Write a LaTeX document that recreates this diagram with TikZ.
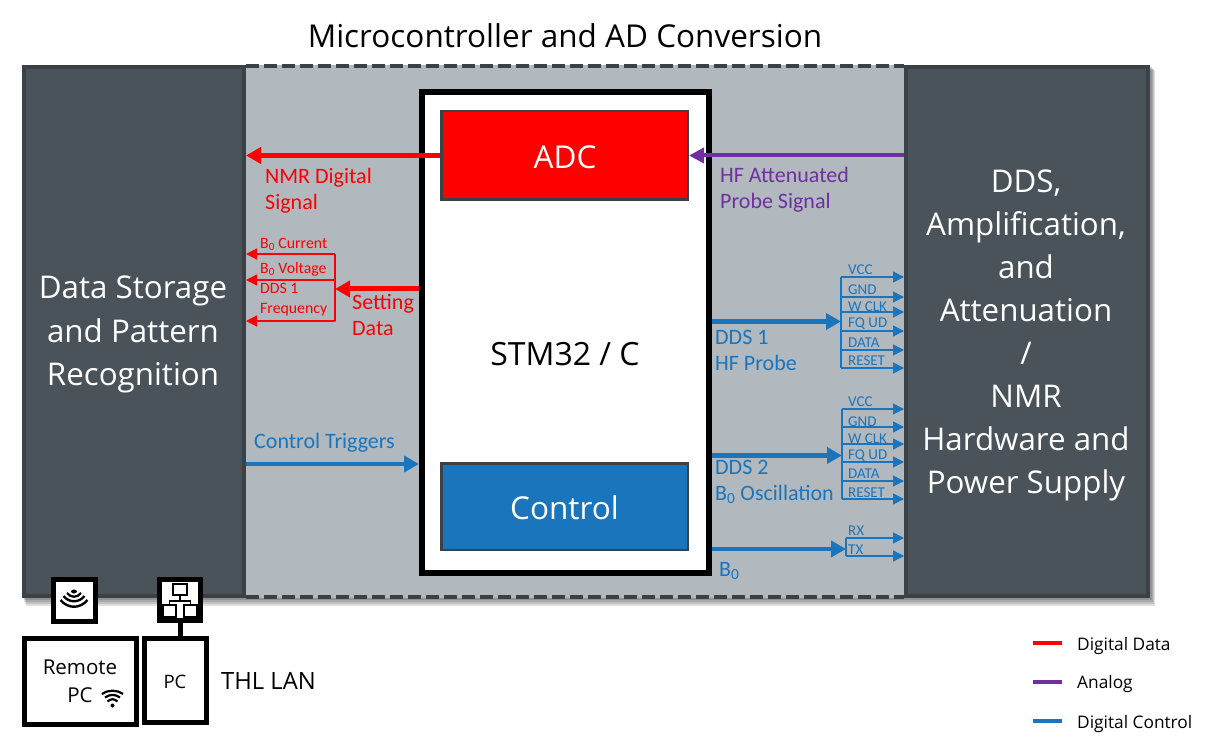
\documentclass[tikz,border=0pt]{standalone}
\usepackage{fontspec}
\setmainfont{Open Sans}
\newfontfamily\labelfont{Carlito}
\usetikzlibrary{arrows.meta, positioning}
\definecolor{paneldark}{HTML}{4A5359}
\definecolor{paneledge}{HTML}{3A4247}
\definecolor{midgray}{HTML}{B1B8BE}
\definecolor{datared}{HTML}{FF0000}
\definecolor{analogpurple}{HTML}{7030A0}
\definecolor{ctrlblue}{HTML}{1B75BC}
\newcommand{\fsize}[1]{\fontsize{#1}{#1}\selectfont}

\begin{document}
\begin{tikzpicture}[
    x=1pt, y=-1pt,
    softshadow/.style={black, opacity=0.13},
    panel/.style={draw=paneledge, line width=4pt, fill=paneldark, inner sep=0pt},
    paneltext/.style={text=white, align=center, inner sep=0pt, font=\fontsize{31.3}{43.1}\selectfont},
    block/.style={draw=paneledge, line width=2.5pt, minimum width=246.5pt},
    blocktext/.style={text=white, inner sep=0pt, font=\fontsize{31.5}{35}\selectfont},
    whitebox/.style={draw=black, fill=white, line width=5pt, inner sep=0pt, align=center},
    iconline/.style={black, line width=1.7pt},
    dataflow/.style={-{Triangle[length=15pt, width=16pt]}, datared, line width=5pt},
    analogflow/.style={-{Triangle[length=15pt, width=15pt]}, analogpurple, line width=4pt},
    ctrlflow/.style={-{Triangle[length=15pt, width=16pt]}, ctrlblue, line width=4.5pt},
    databranch/.style={-{Triangle[length=11pt, width=11pt]}, datared, line width=1.2pt},
    ctrlbranch/.style={-{Triangle[length=11pt, width=11pt]}, ctrlblue, line width=1.2pt},
    siglabel/.style={align=left, anchor=west, inner sep=0pt, font=\labelfont\fontsize{22}{26}\selectfont},
    pinlabel/.style={inner sep=0pt, text=ctrlblue, font=\labelfont\fontsize{15}{15}\selectfont},
    redlabel/.style={align=left, anchor=west, inner sep=0pt, text=datared, font=\labelfont\fontsize{15.8}{20}\selectfont},
    legendline/.style={line width=4pt},
    legendtext/.style={anchor=west, inner sep=0pt, font=\fontsize{17.3}{18}\selectfont}
  ]
    \useasboundingbox (0,0) rectangle (1213,743);

    % background panels
    \fill[softshadow] (24,67) rectangle (1152,600);
    \fill[softshadow] (24,68) rectangle (1153,602);
    \fill[softshadow] (25,69) rectangle (1154,604);
    \fill[softshadow] (26,70) rectangle (1155,606);
    \fill[white] (246,60) rectangle (904,65);
    \fill[midgray] (22,65) rectangle (1150,598);
    \draw[paneledge, line width=3.5pt, dash pattern=on 13pt off 5pt] (246,66) -- (904,66);
    \draw[paneledge, line width=3.5pt, dash pattern=on 13pt off 5pt] (246,597) -- (904,597);
    \node[panel, minimum width=220pt, minimum height=529pt] (store) at (134,331.5) {};
    \node[panel, minimum width=242pt, minimum height=529pt] (hw) at (1027,331.5) {};
    \node[paneltext] (storelabel) at (133,334.5) {Data Storage\\and Pattern\\Recognition};
    \node[paneltext] (hwlabel) at (1026,335.5) {DDS,\\Amplification,\\and\\Attenuation\\/\\NMR\\Hardware and\\Power Supply};
    \node[font=\fsize{31.5}, inner sep=0pt] (title) at (565,36) {Microcontroller and AD Conversion};

    % microcontroller
    \node[draw=black, fill=white, line width=6pt, minimum width=287pt, minimum height=481pt] (stm) at (565.5,332.5) {};
    \node[font=\fsize{32}, inner sep=0pt] (stmlabel) at (565,354) {STM32 / C};
    \node[block, fill=datared, minimum height=88.5pt] (adc) at (564.5,155.5) {};
    \node[block, fill=ctrlblue, minimum height=86.5pt] (ctrl) at (564.5,506.5) {};
    \node[blocktext] (adclabel) at (565,157) {ADC};
    \node[blocktext] (ctrllabel) at (564.5,507.5) {Control};

    % main signals
    \draw[dataflow] (adc.west) -- (adc.west -| store.east);
    \node[siglabel, text=datared] (nmrsig) at (265,191) {NMR Digital\\Signal};
    \draw[analogflow] (hw.west |- adc.east) -- (adc.east);
    \node[siglabel, text=analogpurple] (hfsig) at (720,190) {HF Attenuated\\Probe Signal};
    \coordinate (trig) at (246,464);
    \draw[ctrlflow] (trig) -- (trig -| stm.west);
    \node[siglabel, text=ctrlblue] (trigsig) at (254,443) {Control Triggers};

    % setting data
    \coordinate (setbus) at (335,289);
    \coordinate (set1) at (335,254);
    \coordinate (set2) at (335,280);
    \coordinate (set3) at (335,321);
    \draw[dataflow] (setbus -| stm.west) -- (setbus);
    \draw[datared, line width=1.2pt] (set1) -- (set3);
    \draw[databranch] (set1) -- (set1 -| store.east);
    \draw[databranch] (set2) -- (set2 -| store.east);
    \draw[databranch] (set3) -- (set3 -| store.east);
    \node[siglabel, text=datared] (setsig) at (352,315) {Setting\\Data};
    \node[redlabel] (bcur) at (260,244.5) {B\textsubscript{0} Current};
    \node[redlabel] (bvol) at (260,269.5) {B\textsubscript{0} Voltage};
    \node[redlabel] (ddsfreq) at (260,300) {DDS 1\\Frequency};

    % DDS 1
    \coordinate (busa) at (841,321.5);
    \coordinate (a1) at (841,277);
    \coordinate (a2) at (841,297);
    \coordinate (a3) at (841,312);
    \coordinate (a4) at (841,331);
    \coordinate (a5) at (841,350);
    \coordinate (a6) at (841,368);
    \draw[ctrlflow] (busa -| stm.east) -- (busa);
    \draw[ctrlblue, line width=1.2pt] (a1) -- (a6);
    \draw[ctrlbranch] (a1) -- (a1 -| hw.west);
    \draw[ctrlbranch] (a2) -- (a2 -| hw.west);
    \draw[ctrlbranch] (a3) -- (a3 -| hw.west);
    \draw[ctrlbranch] (a4) -- (a4 -| hw.west);
    \draw[ctrlbranch] (a5) -- (a5 -| hw.west);
    \draw[ctrlbranch] (a6) -- (a6 -| hw.west);
    \node[pinlabel, above right=2pt and 7pt of a1] (vcca) {VCC};
    \node[pinlabel, above right=2.5pt and 7pt of a2] (gnda) {GND};
    \node[pinlabel, above right=0pt and 7pt of a3] (wclka) {W CLK};
    \node[pinlabel, above right=1pt and 7pt of a4] (fquda) {FQ UD};
    \node[pinlabel, above right=2pt and 7pt of a5] (dataa) {DATA};
    \node[pinlabel, above right=2pt and 7pt of a6] (reseta) {RESET};
    \node[siglabel, text=ctrlblue] (ddsone) at (715,350) {DDS 1\\HF Probe};

    % DDS 2
    \coordinate (busb) at (842,455.5);
    \coordinate (b1) at (842,409);
    \coordinate (b2) at (842,427);
    \coordinate (b3) at (842,444);
    \coordinate (b4) at (842,462);
    \coordinate (b5) at (842,481);
    \coordinate (b6) at (842,499);
    \draw[ctrlflow] (busb -| stm.east) -- (busb);
    \draw[ctrlblue, line width=1.2pt] (b1) -- (b6);
    \draw[ctrlbranch] (b1) -- (b1 -| hw.west);
    \draw[ctrlbranch] (b2) -- (b2 -| hw.west);
    \draw[ctrlbranch] (b3) -- (b3 -| hw.west);
    \draw[ctrlbranch] (b4) -- (b4 -| hw.west);
    \draw[ctrlbranch] (b5) -- (b5 -| hw.west);
    \draw[ctrlbranch] (b6) -- (b6 -| hw.west);
    \node[pinlabel, above right=2pt and 6pt of b1] (vccb) {VCC};
    \node[pinlabel, above right=0.5pt and 6pt of b2] (gndb) {GND};
    \node[pinlabel, above right=0.5pt and 6pt of b3] (wclkb) {W CLK};
    \node[pinlabel, above right=0.5pt and 6pt of b4] (fqudb) {FQ UD};
    \node[pinlabel, above right=2pt and 6pt of b5] (datab) {DATA};
    \node[pinlabel, above right=1pt and 6pt of b6] (resetb) {RESET};
    \node[siglabel, text=ctrlblue] (ddstwo) at (715,482) {DDS 2\\B\textsubscript{0} Oscillation};

    % B0
    \coordinate (busc) at (846,549);
    \coordinate (c1) at (846,538);
    \coordinate (c2) at (846,556);
    \draw[ctrlflow] (busc -| stm.east) -- (busc);
    \draw[ctrlblue, line width=1.2pt] (c1) -- (c2);
    \draw[ctrlbranch] (c1) -- (c1 -| hw.west);
    \draw[ctrlbranch] (c2) -- (c2 -| hw.west);
    \node[pinlabel, above right=2pt and 2pt of c1] (rx) {RX};
    \node[pinlabel, above right=1.5pt and 2pt of c2] (tx) {TX};
    \node[siglabel, text=ctrlblue] (bzero) at (719,571) {B\textsubscript{0}};

    % network
    \node[whitebox, minimum width=42pt, minimum height=42pt] (wifibox) at (74.5,600) {};
    \node[whitebox, minimum width=41pt, minimum height=41pt] (lanbox) at (180,600) {};
    \node[whitebox, minimum width=112pt, minimum height=86pt] (remote) at (80.5,681.5) {};
    \node[whitebox, minimum width=62pt, minimum height=84pt] (pc) at (175.5,680.5) {};
    \draw[black, line width=5pt] (lanbox) -- (lanbox |- pc.north);
    \node[font=\fsize{20.5}, inner sep=0pt] (remotetxt) at (80,667) {Remote};
    \node[font=\fsize{20.5}, inner sep=0pt] (remotepc) at (80,695) {PC};
    \node[font=\fsize{18.5}, inner sep=0pt] (pctxt) at (175,682) {PC};
    \node[font=\fsize{23.8}, anchor=west, inner sep=0pt] (lan) at (221,681) {THL LAN};

    % icons
    \fill[black] (74,591.5) ellipse (3 and 2);
    \draw[iconline, line width=2.2pt] (67,593) .. controls (71,598) and (77,598) .. (81,593);
    \draw[iconline, line width=2.4pt] (63.5,596) .. controls (69,603) and (79,603) .. (84.5,596);
    \draw[iconline, line width=2.4pt] (60.5,600) .. controls (68,609) and (80,609) .. (87.5,600);
    \draw[iconline] (173,584) rectangle (187,595);
    \draw[iconline] (180,595) -- (180,601);
    \draw[iconline] (169.5,605) -- (169.5,601) -- (190.5,601) -- (190.5,605);
    \draw[iconline] (163,605) rectangle (176,617);
    \draw[iconline] (184,605) rectangle (197,617);
    \fill[black] (112.5,705.5) circle (2);
    \draw[iconline, line width=2.2pt] (107.5,701.5) .. controls (111,698.5) and (114,698.5) .. (117.5,701.5);
    \draw[iconline, line width=2.2pt] (105,697.5) .. controls (110,694) and (115,694) .. (120,697.5);
    \draw[iconline, line width=2.2pt] (102,694) .. controls (109,689.5) and (116,689.5) .. (123,694);

    % legend
    \coordinate (keydata) at (1033,643);
    \coordinate (keyanalog) at (1033,682);
    \coordinate (keyctrl) at (1033,721);
    \draw[legendline, datared] (keydata) -- ++(29,0);
    \draw[legendline, analogpurple] (keyanalog) -- ++(29,0);
    \draw[legendline, ctrlblue] (keyctrl) -- ++(29,0);
    \node[legendtext] (txtdata) at (1077,646) {Digital Data};
    \node[legendtext] (txtanalog) at (1077,684) {Analog};
    \node[legendtext] (txtctrl) at (1077,724) {Digital Control};
\end{tikzpicture}
\end{document}
